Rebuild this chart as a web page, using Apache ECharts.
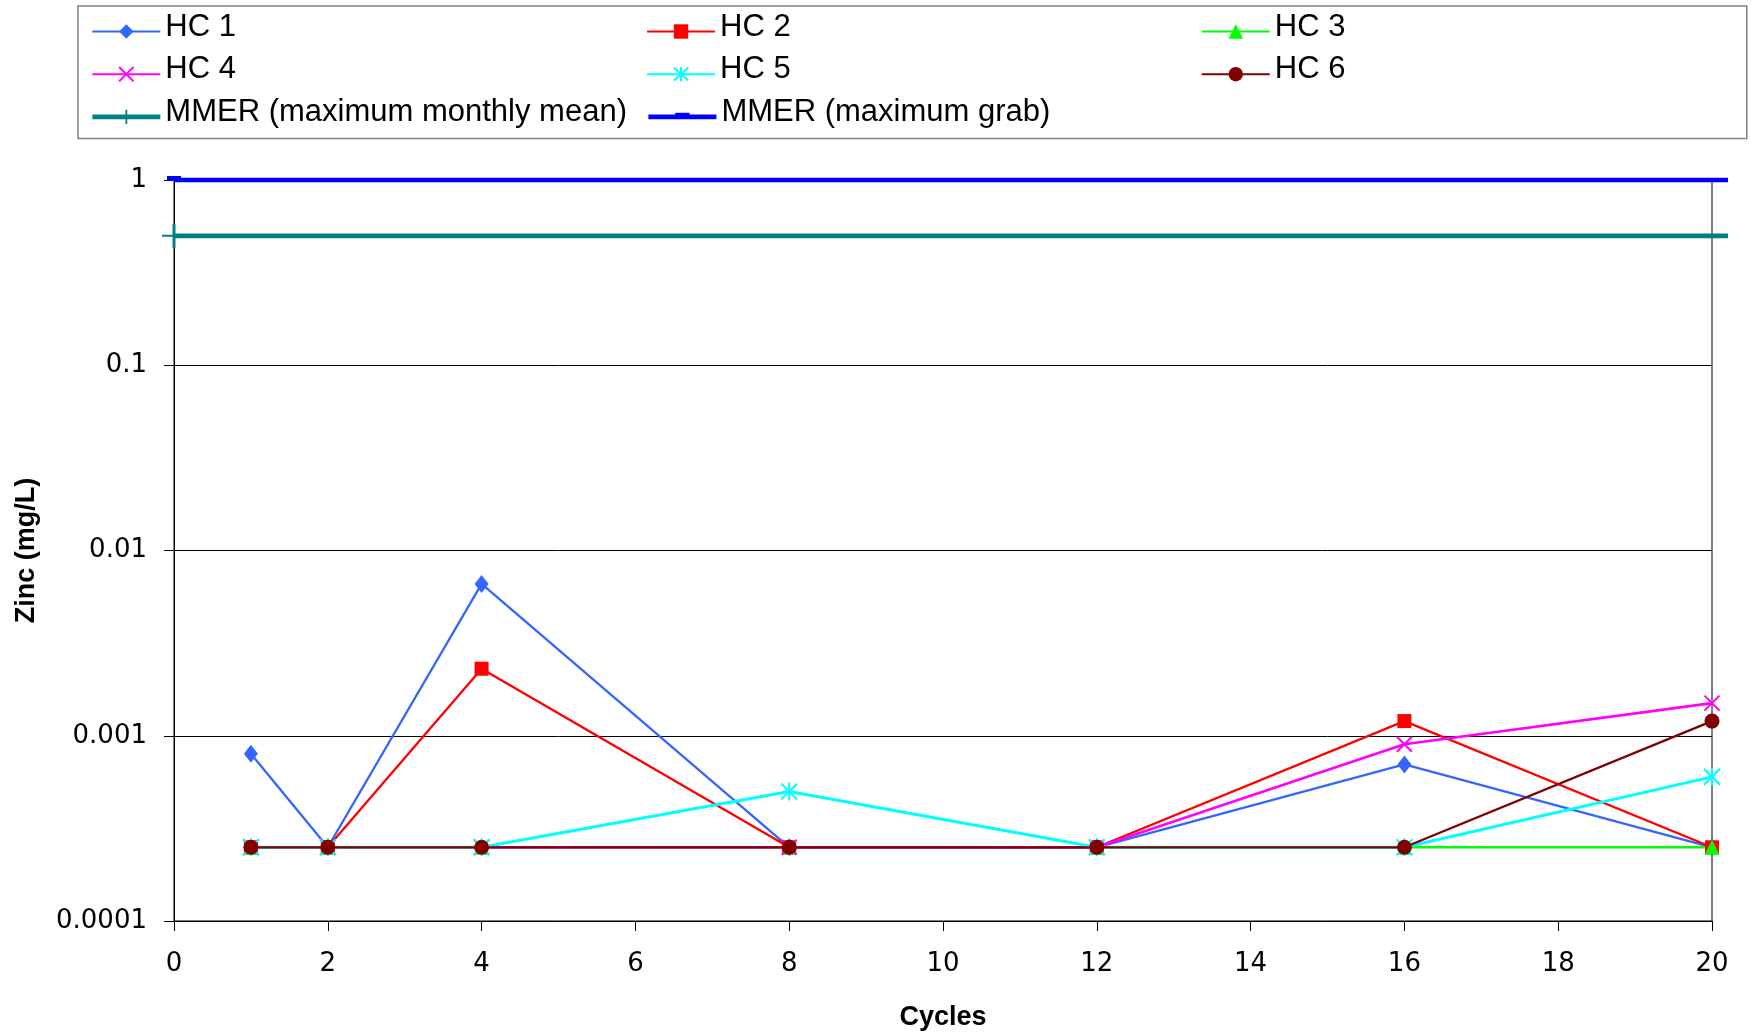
<!DOCTYPE html>
<html><head><meta charset="utf-8">
<script src="https://cdn.jsdelivr.net/npm/echarts@6/dist/echarts.min.js"></script>
<style>html,body{margin:0;padding:0;background:#fff}#c{width:1751px;height:1036px}</style>
</head><body><div id="c"></div>
<script>
// ---- data ----
const cycles = [1, 2, 4, 8, 12, 16, 20];
const hc1 = [0.0008, 0.00025, 0.0066, 0.00025, 0.00025, 0.0007, 0.00025];
const hc2 = [0.00025, 0.00025, 0.0023, 0.00025, 0.00025, 0.0012, 0.00025];
const hc3 = [0.00025, 0.00025, 0.00025, 0.00025, 0.00025, 0.00025, 0.00025];
const hc4 = [0.00025, 0.00025, 0.00025, 0.00025, 0.00025, 0.0009, 0.0015];
const hc5 = [0.00025, 0.00025, 0.00025, 0.0005, 0.00025, 0.00025, 0.0006];
const hc6 = [0.00025, 0.00025, 0.00025, 0.00025, 0.00025, 0.00025, 0.0012];
const mmerX = [0, 20.2];
const mmerMonthlyMean = [0.5, 0.5];
const mmerGrab = [1, 1];
const seriesNames = ['HC 1', 'HC 2', 'HC 3', 'HC 4', 'HC 5', 'HC 6',
  'MMER (maximum monthly mean)', 'MMER (maximum grab)'];
const yTickLabels = ['0.0001', '0.001', '0.01', '0.1', '1'];
const xAxisTitle = 'Cycles';
const yAxisTitle = 'Zinc (mg/L)';

// ---- chart ----
const pair = (xs, ys) => xs.map((x, i) => [x, ys[i]]);
const crossPath = 'path://M0,0L16,16M16,0L0,16';
const starPath = 'path://M0,1L16,17M16,1L0,17M8,0L8,18';
const plusPath = 'path://M10.5,0h3v24h-3zM0,11h24v2h-24z';
const dashPath = 'path://M0,0M14,14M0,3h14v5h-14z';
const FONT = 'Liberation Sans, Arial, sans-serif';
const TICKFONT = 'DejaVu Sans, Verdana, sans-serif';

function hcSeries(name, ys, color, symbol, size, lw, stroke) {
  return {
    name, type: 'line', data: pair(cycles, ys), xAxisIndex: 0, yAxisIndex: 0,
    symbol, symbolSize: size, showAllSymbol: true,
    lineStyle: { color, width: lw },
    itemStyle: { color, borderColor: color, borderWidth: stroke ? 2 : 0 },
    emphasis: { disabled: true }, animation: false
  };
}
function limitSeries(name, ys, color, symbol, size) {
  return {
    name, type: 'line', xAxisIndex: 1, yAxisIndex: 1, clip: false,
    data: pair(mmerX, ys).map((v, i) => i === 0 ? { value: v } : { value: v, symbol: 'none' }),
    symbol, symbolSize: size, showAllSymbol: true,
    lineStyle: { color, width: 4.7 },
    itemStyle: { color },
    emphasis: { disabled: true }, animation: false, z: 3
  };
}

const legendData = seriesNames.map((n, i) => {
  const item = { name: n };
  if (i === 2 || i === 5) item.textStyle = { width: 200 };
  if (i >= 6) item.lineStyle = { width: 4.7 };
  return item;
});

const chart = echarts.init(document.getElementById('c'), null, { renderer: 'canvas' });
chart.setOption({
  backgroundColor: '#ffffff',
  animation: false,
  legend: {
    left: 78, top: 6,
    width: 1400,
    orient: 'horizontal',
    padding: [5.5, 272, 2.5, 12],
    itemWidth: 68, itemHeight: 18, itemGap: 3.7,
    borderColor: '#808080', borderWidth: 1.5,
    formatter: name => '{t|' + name + '}',
    textStyle: {
      fontFamily: FONT, fontSize: 31, color: '#000',
      width: 477, lineHeight: 38,
      rich: { t: { fontFamily: FONT, fontSize: 31, color: '#000', padding: [0, 0, 9, 0] } }
    },
    data: legendData,
    selectedMode: false
  },
  grid: [
    { left: 174, right: 39, top: 180, bottom: 114,
      show: true, borderColor: '#000', borderWidth: 1, backgroundColor: '#fff' },
    { left: 174, right: 23, top: 180, bottom: 114, show: false }
  ],
  xAxis: [{
    type: 'value', min: 0, max: 20, interval: 2, gridIndex: 0,
    name: xAxisTitle, nameLocation: 'middle', nameGap: 83,
    nameTextStyle: { fontFamily: FONT, fontSize: 27, fontWeight: 'bold', color: '#000' },
    axisLine: { lineStyle: { color: '#000', width: 1 } },
    axisTick: { show: true, inside: false, length: 10, lineStyle: { color: '#000' } },
    axisLabel: { margin: 30, fontFamily: TICKFONT, fontSize: 26, color: '#000' },
    splitLine: { show: false }
  }, {
    type: 'value', min: 0, max: 'dataMax', gridIndex: 1, show: false,
    axisLine: { show: false }, axisTick: { show: false }, axisLabel: { show: false }, splitLine: { show: false }
  }],
  yAxis: [{
    type: 'log', logBase: 10, min: 0.0001, max: 1, gridIndex: 0,
    name: yAxisTitle, nameLocation: 'middle', nameGap: 134, nameRotate: 90,
    nameTextStyle: { fontFamily: FONT, fontSize: 27, fontWeight: 'bold', color: '#000' },
    axisLine: { show: true, lineStyle: { color: '#000', width: 1 } },
    axisTick: { show: true, inside: false, length: 10, lineStyle: { color: '#000' } },
    minorTick: { show: false },
    axisLabel: {
      margin: 27, fontFamily: TICKFONT, fontSize: 26, color: '#000',
      formatter: v => yTickLabels[Math.round(Math.log10(v)) + 4]
    },
    splitLine: { show: true, lineStyle: { color: '#000', width: 1 } }
  }, {
    type: 'log', logBase: 10, min: 0.0001, max: 1, gridIndex: 1, show: false,
    axisLine: { show: false }, axisTick: { show: false }, axisLabel: { show: false }, splitLine: { show: false }
  }],
  series: [
    hcSeries(seriesNames[0], hc1, '#3366FF', 'diamond', [14, 18], 2.3, false),
    hcSeries(seriesNames[1], hc2, '#FF0000', 'rect', 14, 2.3, false),
    hcSeries(seriesNames[2], hc3, '#00FF00', 'triangle', 15, 2.6, false),
    hcSeries(seriesNames[3], hc4, '#FF00FF', crossPath, 15, 2.6, true),
    hcSeries(seriesNames[4], hc5, '#00FFFF', starPath, [16, 18], 3, true),
    hcSeries(seriesNames[5], hc6, '#800000', 'circle', 15, 2.3, false),
    limitSeries(seriesNames[6], mmerMonthlyMean, '#008080', plusPath, 24),
    limitSeries(seriesNames[7], mmerGrab, '#0000FF', dashPath, 14)
  ]
});
</script></body></html>
